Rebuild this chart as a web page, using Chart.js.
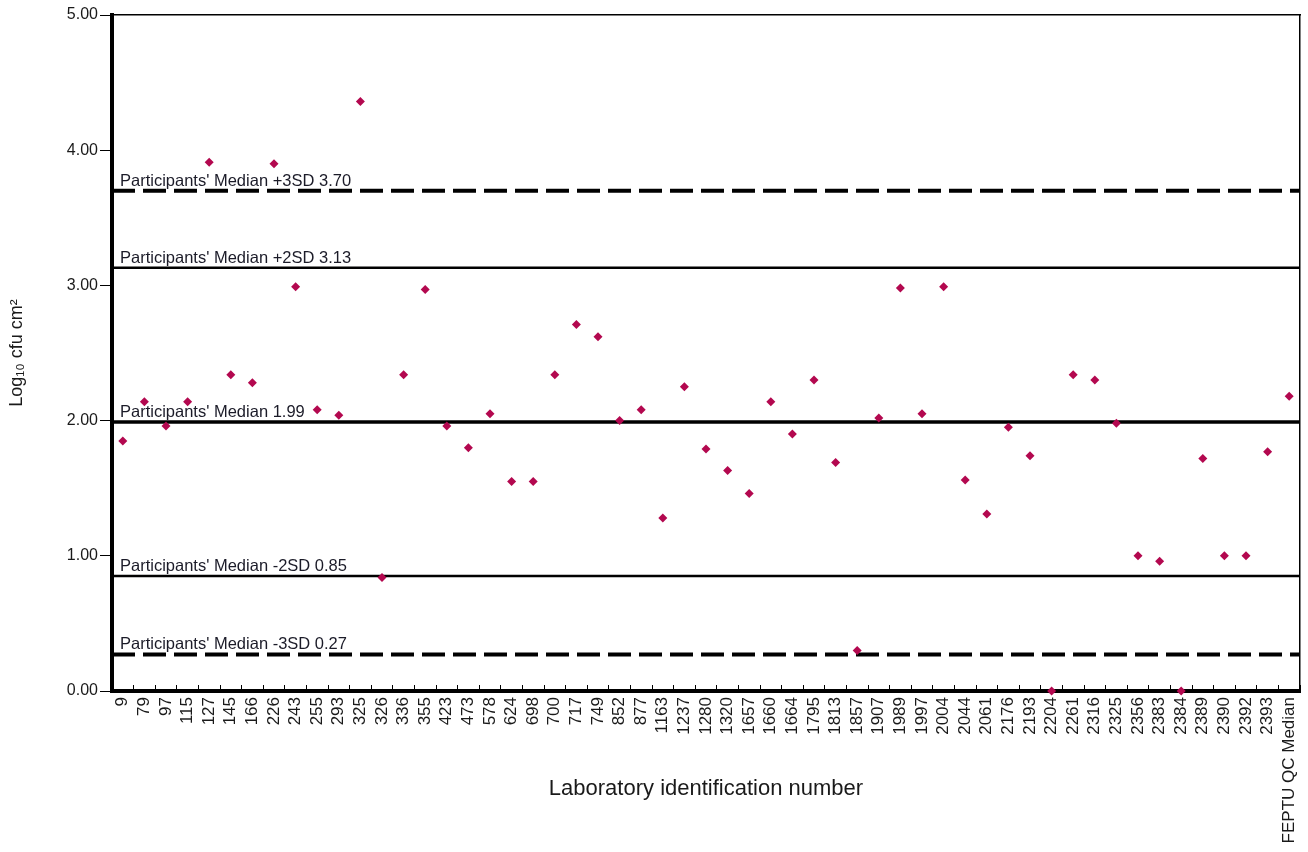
<!DOCTYPE html>
<html>
<head>
<meta charset="utf-8">
<title>Laboratory results</title>
<script src="https://cdn.jsdelivr.net/npm/chart.js@4.4.1/dist/chart.umd.min.js"></script>
<style>
    body { margin: 0; background: #fff; }
    #wrap { width: 1308px; height: 852px; position: relative; }
</style>
</head>
<body>
<div id="wrap"><canvas id="labChart"></canvas></div>
<script>
// lab ids along the x axis
const labIds = [
    '9', '79', '97', '115', '127', '145', '166', '226', '243', '255',
    '293', '325', '326', '336', '355', '423', '473', '578', '624', '698',
    '700', '717', '749', '852', '877', '1163', '1237', '1280', '1320', '1657',
    '1660', '1664', '1795', '1813', '1857', '1907', '1989', '1997', '2004', '2044',
    '2061', '2176', '2193', '2204', '2261', '2316', '2325', '2356', '2383', '2384',
    '2389', '2390', '2392', '2393', 'FEPTU QC Median'
];

// log10 cfu cm2 result per lab
const labResults = [
    1.85, 2.14, 1.96, 2.14, 3.91, 2.34, 2.28, 3.90, 2.99, 2.08,
    2.04, 4.36, 0.84, 2.34, 2.97, 1.96, 1.80, 2.05, 1.55, 1.55,
    2.34, 2.71, 2.62, 2.00, 2.08, 1.28, 2.25, 1.79, 1.63, 1.46,
    2.14, 1.90, 2.30, 1.69, 0.30, 2.02, 2.98, 2.05, 2.99, 1.56,
    1.31, 1.95, 1.74, 0.00, 2.34, 2.30, 1.98, 1.00, 0.96, 0.00,
    1.72, 1.00, 1.00, 1.77, 2.18
];

// reference lines (median and SD limits)
const refNames = [
    "Participants' Median +3SD",
    "Participants' Median +2SD",
    "Participants' Median",
    "Participants' Median -2SD",
    "Participants' Median -3SD"
];
const refValues = [3.70, 3.13, 1.99, 0.85, 0.27];
const refWidths = [4, 2.5, 3.5, 2.5, 4];
const refDashes = [[23, 8], [], [], [], [23, 8]];

const yTicks = [0, 1, 2, 3, 4, 5];

Chart.defaults.font.family = '"Liberation Sans", Arial, sans-serif';
Chart.defaults.color = '#1a1a1a';

// text above each reference line
const refLabelPlugin = {
    id: 'refLabels',
    afterDatasetsDraw(chart) {
        const { ctx, chartArea, scales } = chart;
        ctx.save();
        ctx.font = '16.5px "Liberation Sans", Arial, sans-serif';
        ctx.fillStyle = '#1b1b28';
        ctx.textAlign = 'left';
        ctx.textBaseline = 'alphabetic';
        refValues.forEach((v, i) => {
            const py = scales.y.getPixelForValue(v);
            ctx.fillText(refNames[i] + ' ' + v.toFixed(2), chartArea.left + 8, py - 5);
        });
        ctx.restore();
    }
};

const noPad = s => {
    s.paddingLeft = 0;
    s.paddingRight = 0;
    s.paddingTop = 0;
    s.paddingBottom = 0;
};

const refDatasets = refValues.map((v, i) => ({
    label: refNames[i],
    data: [{ x: 0, y: v }, { x: 1, y: v }],
    xAxisID: 'x2',
    borderColor: '#000',
    borderWidth: refWidths[i],
    borderDash: refDashes[i],
    borderCapStyle: 'butt',
    pointRadius: 0,
    fill: false
}));

const ctx = document.getElementById('labChart').getContext('2d');
new Chart(ctx, {
    type: 'line',
    data: {
        labels: labIds,
        datasets: [{
            label: 'Result',
            data: labResults,
            showLine: false,
            pointStyle: 'rectRot',
            pointRadius: 4.5,
            pointBorderWidth: 0,
            pointBackgroundColor: '#b3084f',
            pointBorderColor: '#b3084f',
            clip: false
        }, ...refDatasets]
    },
    options: {
        responsive: true,
        maintainAspectRatio: false,
        animation: false,
        layout: { padding: { top: 15, right: 8, left: 0, bottom: 0 } },
        plugins: {
            legend: { display: false },
            tooltip: { enabled: false }
        },
        scales: {
            x: {
                type: 'category',
                position: 'bottom',
                offset: true,
                grid: {
                    offset: true,
                    drawOnChartArea: false,
                    color: '#000',
                    lineWidth: 1,
                    tickLength: -6
                },
                border: { display: true, color: '#000', width: 4 },
                ticks: {
                    autoSkip: false,
                    minRotation: 90,
                    maxRotation: 90,
                    padding: 12,
                    color: '#1a1a1a',
                    font: { size: 17 }
                },
                title: {
                    display: true,
                    text: 'Laboratory identification number',
                    color: '#1a1a1a',
                    font: { size: 22 },
                    padding: { top: 0, bottom: 50 }
                },
                afterFit: s => { s.height = 161; noPad(s); }
            },
            x2: {
                type: 'linear',
                position: 'top',
                min: 0,
                max: 1,
                grid: { display: false, drawTicks: false },
                border: { display: true, color: '#000', width: 1.5 },
                ticks: { display: false },
                afterFit: s => { s.height = 0; noPad(s); }
            },
            y: {
                position: 'left',
                min: 0,
                max: 5,
                afterBuildTicks: s => { s.ticks = yTicks.map(v => ({ value: v })); },
                grid: {
                    drawOnChartArea: false,
                    color: '#000',
                    lineWidth: 1,
                    tickLength: 12
                },
                border: { display: true, color: '#000', width: 4 },
                ticks: {
                    padding: 2,
                    color: '#1a1a1a',
                    font: { size: 16 },
                    callback: v => Number(v).toFixed(2)
                },
                title: {
                    display: true,
                    text: 'Log₁₀ cfu cm²',
                    color: '#1a1a1a',
                    font: { size: 18 },
                    padding: { top: 6, bottom: 0 }
                },
                afterFit: s => { s.width = 112; noPad(s); }
            },
            y2: {
                type: 'linear',
                position: 'right',
                min: 0,
                max: 5,
                grid: { display: false, drawTicks: false },
                border: { display: true, color: '#000', width: 1.5 },
                ticks: { display: false },
                afterFit: s => { s.width = 0; noPad(s); }
            }
        }
    },
    plugins: [refLabelPlugin]
});
</script>
</body>
</html>
